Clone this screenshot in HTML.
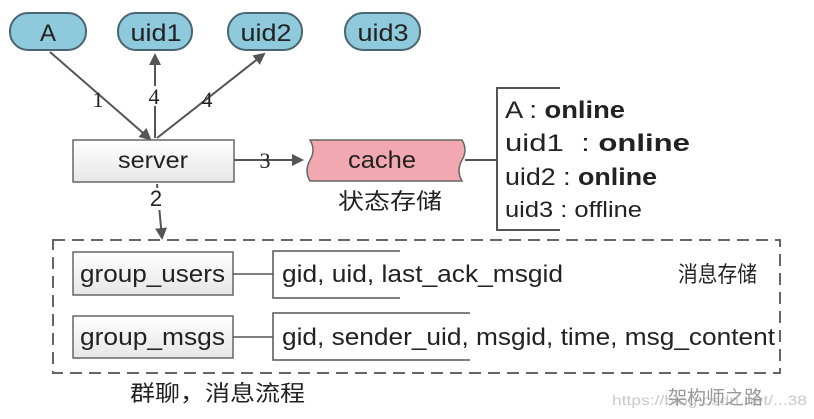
<!DOCTYPE html>
<html><head><meta charset="utf-8"><style>
html,body{margin:0;padding:0;background:#fff;}
svg text{font-family:"Liberation Sans","Noto Sans CJK SC",sans-serif;fill:#222;}
</style></head><body>
<svg width="814" height="414" viewBox="0 0 814 414" xmlns="http://www.w3.org/2000/svg">
<defs>
<marker id="ar" markerWidth="12" markerHeight="12" refX="10" refY="6" orient="auto" markerUnits="userSpaceOnUse"><path d="M0,0 L12,6 L0,12 z" fill="#555"/></marker>
<linearGradient id="g" x1="0" y1="0" x2="0" y2="1"><stop offset="0" stop-color="#fff"/><stop offset="1" stop-color="#e6e6e6"/></linearGradient>
</defs>
<g stroke="#4a6670" stroke-width="2" fill="#8ecadb">
<rect x="10" y="13" width="76" height="37" rx="18"/>
<rect x="118" y="13" width="74" height="37" rx="18"/>
<rect x="228" y="13" width="74" height="37" rx="18"/>
<rect x="345" y="13" width="75" height="37" rx="18"/>
</g>
<g font-size="24" text-anchor="middle">
<text x="48" y="41">A</text><text x="156" y="41" textLength="51" lengthAdjust="spacingAndGlyphs">uid1</text><text x="266" y="41" textLength="51" lengthAdjust="spacingAndGlyphs">uid2</text><text x="383" y="41" textLength="51" lengthAdjust="spacingAndGlyphs">uid3</text>
</g>
<g stroke="#555" stroke-width="2" fill="none">
<line x1="50" y1="52" x2="150" y2="139" marker-end="url(#ar)"/>
<line x1="155" y1="138" x2="155" y2="55" marker-end="url(#ar)"/>
<line x1="157" y1="138" x2="264" y2="54" marker-end="url(#ar)"/>
<line x1="234" y1="160" x2="302" y2="160" marker-end="url(#ar)"/>
<line x1="157" y1="184" x2="162" y2="238" marker-end="url(#ar)"/>
<line x1="465" y1="160" x2="497" y2="160"/>
<path d="M560,88 H497 V230 H560"/>
</g>
<g font-size="22" text-anchor="middle">
<text x="98" y="107" style="font-family:'Liberation Serif'">1</text>
<rect x="146" y="86" width="16" height="20" fill="#fff"/><text x="154" y="104" style="font-family:'Liberation Serif'">4</text>
<text x="207" y="107" style="font-family:'Liberation Serif'">4</text>
<text x="265" y="168" style="font-family:'Liberation Serif'">3</text>
<rect x="146" y="188" width="18" height="22" fill="#fff"/><text x="156" y="206">2</text>
</g>
<rect x="73" y="140" width="161" height="42" fill="url(#g)" stroke="#666" stroke-width="1.5"/>
<text x="153" y="168" font-size="23" text-anchor="middle" textLength="70" lengthAdjust="spacingAndGlyphs">server</text>
<path d="M310,140 H462 Q468,150 462,160 Q456,171 462,181 H310 Q304,171 310,160 Q316,150 310,140 z" fill="#f2a8b0" stroke="#666" stroke-width="1.5"/>
<text x="382" y="168" font-size="24" text-anchor="middle" textLength="68" lengthAdjust="spacingAndGlyphs">cache</text>
<text x="390" y="209" font-size="22" text-anchor="middle" textLength="104" lengthAdjust="spacingAndGlyphs">状态存储</text>
<g font-size="24">
<text x="505" y="118" textLength="120" lengthAdjust="spacingAndGlyphs">A : <tspan font-weight="bold">online</tspan></text>
<text x="505" y="151" textLength="185" lengthAdjust="spacingAndGlyphs">uid1 &#160;: <tspan font-weight="bold">online</tspan></text>
<text x="505" y="185" textLength="152" lengthAdjust="spacingAndGlyphs">uid2 : <tspan font-weight="bold">online</tspan></text>
<text x="505" y="217" font-size="22" textLength="137" lengthAdjust="spacingAndGlyphs">uid3 : offline</text>
</g>
<rect x="53" y="240" width="727" height="133" fill="none" stroke="#666" stroke-width="2" stroke-dasharray="12,7"/>
<rect x="73" y="252" width="160" height="43" fill="url(#g)" stroke="#666" stroke-width="1.5"/>
<text x="80" y="282" font-size="24" textLength="145" lengthAdjust="spacingAndGlyphs">group_users</text>
<rect x="73" y="316" width="160" height="42" fill="url(#g)" stroke="#666" stroke-width="1.5"/>
<text x="80" y="345" font-size="24" textLength="145" lengthAdjust="spacingAndGlyphs">group_msgs</text>
<g stroke="#555" stroke-width="1.5" fill="none">
<line x1="233" y1="274" x2="273" y2="274"/>
<path d="M400,251 H273 V298 H400"/>
<line x1="233" y1="337" x2="273" y2="337"/>
<path d="M470,313 H273 V360 H470"/>
</g>
<text x="282" y="282" font-size="24" textLength="281" lengthAdjust="spacingAndGlyphs">gid, uid, last_ack_msgid</text>
<text x="282" y="345" font-size="24" textLength="493" lengthAdjust="spacingAndGlyphs">gid, sender_uid, msgid, time, msg_content</text>
<text x="678" y="282" font-size="22" textLength="79" lengthAdjust="spacingAndGlyphs">消息存储</text>
<text x="130" y="401" font-size="22" textLength="175" lengthAdjust="spacingAndGlyphs">群聊，消息流程</text>
<text x="612" y="405" font-size="14" style="fill:#c8c8c8" textLength="195" lengthAdjust="spacingAndGlyphs">https://blog.csdn.net/...38</text>
<text x="668" y="404" font-size="19" style="fill:#999">架构师之路</text>
</svg>
</body></html>
